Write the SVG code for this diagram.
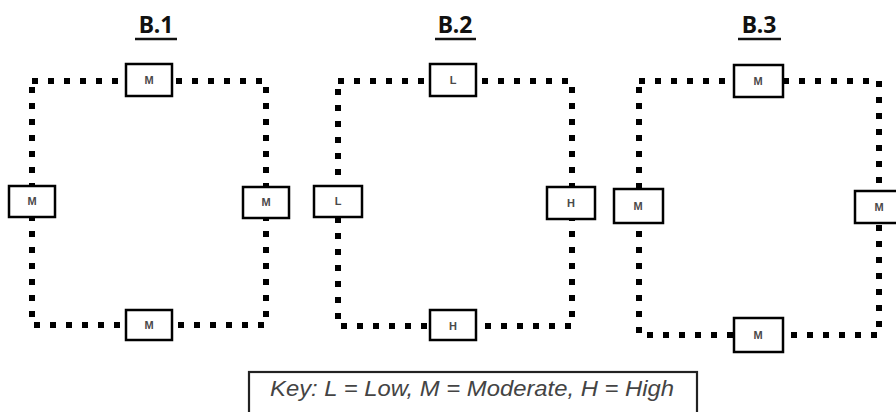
<svg xmlns="http://www.w3.org/2000/svg" width="896" height="412" viewBox="0 0 896 412">
<style>
.title{font-family:"Noto Sans","Liberation Sans",sans-serif;font-weight:bold;font-size:23px;fill:#111;text-anchor:middle}
.ul{stroke:#111;stroke-width:2.5}
.loop{fill:none;stroke:#000;stroke-width:6;stroke-dasharray:6 10}
.box{fill:#fff;stroke:#000;stroke-width:2.5}
.lbl{font-family:"Liberation Sans",Arial,sans-serif;font-weight:bold;font-size:11px;fill:#4a4a4a;text-anchor:middle}
.key{fill:#fff;stroke:#222;stroke-width:2.2}
.keyt{font-family:"Liberation Sans",Arial,sans-serif;font-style:italic;font-size:22.5px;fill:#444;text-anchor:middle}
</style>
<rect width="896" height="412" fill="#fff"/>
<g id="titles">
<text class="title" x="156" y="33">B.1</text>
<line class="ul" x1="135" y1="39" x2="177" y2="39"/>
<text class="title" x="455" y="33">B.2</text>
<line class="ul" x1="435" y1="39" x2="476" y2="39"/>
<text class="title" x="759" y="33">B.3</text>
<line class="ul" x1="738" y1="39" x2="781" y2="39"/>
</g>
<g id="connectors">
<path class="loop" d="M32,81 H266 V325 H32 Z"/>
<path class="loop" d="M338,81 H572 V326 H338 Z"/>
<path class="loop" d="M639,81 H879 V335 H639 Z"/>
</g>
<g id="b1-top"><rect class="box" x="126" y="64" width="46" height="32"/><text class="lbl" x="149" y="84">M</text></g>
<g id="b1-left"><rect class="box" x="9" y="186" width="46" height="31"/><text class="lbl" x="32" y="205">M</text></g>
<g id="b1-right"><rect class="box" x="243" y="187" width="46" height="31"/><text class="lbl" x="266" y="206">M</text></g>
<g id="b1-bottom"><rect class="box" x="126" y="310" width="46" height="30"/><text class="lbl" x="149" y="329">M</text></g>
<g id="b2-top"><rect class="box" x="430" y="64" width="46" height="32"/><text class="lbl" x="453" y="84">L</text></g>
<g id="b2-left"><rect class="box" x="314" y="186" width="48" height="31"/><text class="lbl" x="338" y="205">L</text></g>
<g id="b2-right"><rect class="box" x="547" y="187" width="48" height="32"/><text class="lbl" x="571" y="207">H</text></g>
<g id="b2-bottom"><rect class="box" x="430" y="310" width="46" height="30"/><text class="lbl" x="453" y="330">H</text></g>
<g id="b3-top"><rect class="box" x="734" y="65" width="49" height="32"/><text class="lbl" x="758" y="85">M</text></g>
<g id="b3-left"><rect class="box" x="614" y="189" width="49" height="34"/><text class="lbl" x="638" y="210">M</text></g>
<g id="b3-right"><rect class="box" x="855" y="191" width="49" height="32"/><text class="lbl" x="879" y="211">M</text></g>
<g id="b3-bottom"><rect class="box" x="734" y="318" width="49" height="34"/><text class="lbl" x="758" y="339">M</text></g>
<g id="key"><rect class="key" x="249" y="372" width="448" height="46"/><text class="keyt" x="472" y="396" textLength="404" lengthAdjust="spacingAndGlyphs">Key: L = Low, M = Moderate, H = High</text></g>
</svg>
